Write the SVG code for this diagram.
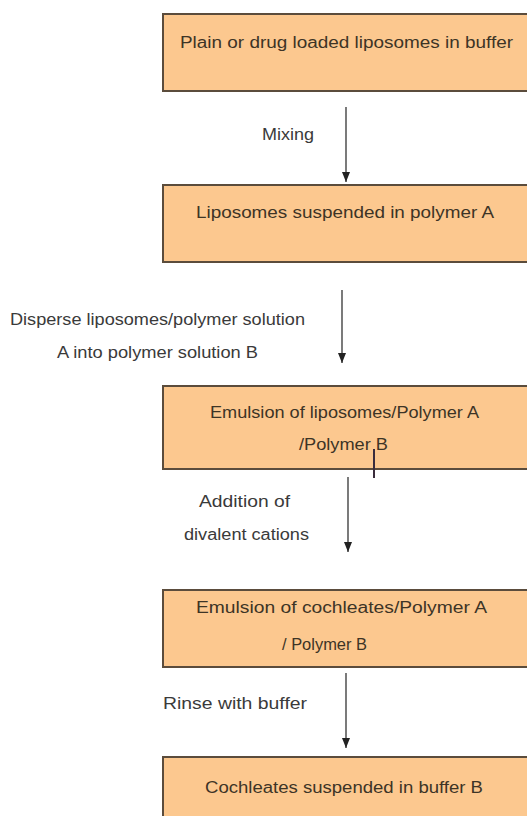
<svg xmlns="http://www.w3.org/2000/svg" width="527" height="816" viewBox="0 0 527 816">
<style>
.box{fill:#FCC88F;stroke:#5b4c3c;stroke-width:2}
.bt{font-family:"Liberation Sans",Arial,sans-serif;font-size:16px;fill:#3d3426;text-anchor:start}
.lb{font-family:"Liberation Sans",Arial,sans-serif;font-size:16px;fill:#3a3a3a;text-anchor:start}
.ar{stroke:#333;stroke-width:1.3;fill:none;marker-end:url(#ah)}
</style>
<defs>
<marker id="ah" viewBox="0 0 10 8" refX="10" refY="4" markerWidth="10" markerHeight="8" markerUnits="userSpaceOnUse" orient="auto">
<path d="M0,0 L10,4 L0,8 Z" fill="#222"/>
</marker>
</defs>
<rect width="527" height="816" fill="#fff"/>
<g id="n1">
<rect class="box" x="163" y="14" width="370" height="77"/>
<text class="bt" x="180" y="48" textLength="333" lengthAdjust="spacingAndGlyphs">Plain or drug loaded liposomes in buffer</text>
</g>
<g id="n2">
<rect class="box" x="163" y="185" width="370" height="77"/>
<text class="bt" x="196" y="218" textLength="298" lengthAdjust="spacingAndGlyphs">Liposomes suspended in polymer A</text>
</g>
<g id="n3">
<rect class="box" x="163" y="386" width="370" height="83"/>
<text class="bt" x="210" y="418" textLength="269" lengthAdjust="spacingAndGlyphs">Emulsion of liposomes/Polymer A</text>
<text class="bt" x="299" y="450" textLength="89" lengthAdjust="spacingAndGlyphs">/Polymer B</text>
</g>
<g id="n4">
<rect class="box" x="163" y="590" width="370" height="77"/>
<text class="bt" x="196" y="613" textLength="291" lengthAdjust="spacingAndGlyphs">Emulsion of cochleates/Polymer A</text>
<text class="bt" x="282" y="650" textLength="85" lengthAdjust="spacingAndGlyphs">/ Polymer B</text>
</g>
<g id="n5">
<rect class="box" x="163" y="757" width="370" height="70"/>
<text class="bt" x="205" y="793" textLength="278" lengthAdjust="spacingAndGlyphs">Cochleates suspended in buffer B</text>
</g>
<g id="connectors">
<line class="ar" x1="346" y1="107" x2="346" y2="182"/>
<line class="ar" x1="342" y1="290" x2="342" y2="363"/>
<line class="ar" x1="348" y1="477" x2="348" y2="552"/>
<line class="ar" x1="346" y1="673" x2="346" y2="748"/>
<line x1="374" y1="449" x2="374" y2="478" stroke="#3a2c3c" stroke-width="2"/>
</g>
<g id="labels">
<text class="lb" x="262" y="140" textLength="52" lengthAdjust="spacingAndGlyphs">Mixing</text>
<text class="lb" x="10" y="325" textLength="295" lengthAdjust="spacingAndGlyphs">Disperse liposomes/polymer solution</text>
<text class="lb" x="57" y="358" textLength="201" lengthAdjust="spacingAndGlyphs">A into polymer solution B</text>
<text class="lb" x="199" y="507" textLength="91" lengthAdjust="spacingAndGlyphs">Addition of</text>
<text class="lb" x="184" y="540" textLength="125" lengthAdjust="spacingAndGlyphs">divalent cations</text>
<text class="lb" x="163" y="709" textLength="144" lengthAdjust="spacingAndGlyphs">Rinse with buffer</text>
</g>
</svg>
